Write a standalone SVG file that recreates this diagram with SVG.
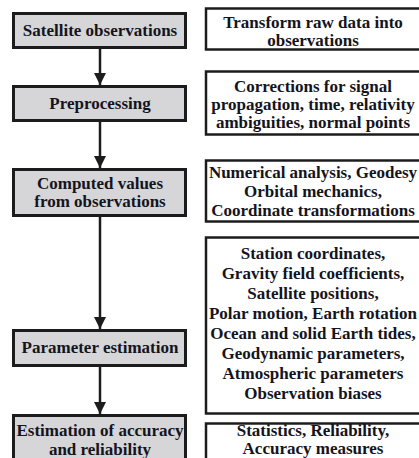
<svg xmlns="http://www.w3.org/2000/svg" width="419" height="458" viewBox="0 0 419 458">
<defs>
<style>
.lb{fill:#d6d6d8;stroke:#1c1c1c;stroke-width:3}
.rb{fill:#ffffff;stroke:#1c1c1c;stroke-width:2.5}
.t{font-weight:bold;font-size:17px;fill:#141420;text-anchor:middle}
.c{stroke:#1c1c1c;stroke-width:2.5;fill:none}
</style>
<marker id="ah" markerWidth="12" markerHeight="12" viewBox="0 0 12 12" refX="12" refY="6" orient="auto" markerUnits="userSpaceOnUse">
<path d="M0,0 L12,6 L0,12 Z" fill="#1c1c1c"/>
</marker>
</defs>
<rect width="419" height="458" fill="#ffffff"/>
<g id="connectors">
<line class="c" x1="100" y1="48" x2="100" y2="85" marker-end="url(#ah)"/>
<line class="c" x1="100" y1="121" x2="100" y2="168" marker-end="url(#ah)"/>
<line class="c" x1="100" y1="217" x2="100" y2="329" marker-end="url(#ah)"/>
<line class="c" x1="100" y1="366" x2="100" y2="414" marker-end="url(#ah)"/>
</g>
<g font-family="Liberation Serif, Times New Roman, serif">
<g id="n1">
<rect class="lb" x="13.5" y="13.5" width="172" height="34"/>
<text class="t" x="100" y="36">Satellite observations</text>
</g>
<g id="n2">
<rect class="lb" x="13.5" y="86.5" width="172" height="34"/>
<text class="t" x="100" y="109">Preprocessing</text>
</g>
<g id="n3">
<rect class="lb" x="13.5" y="169.5" width="172" height="46"/>
<text class="t" x="100" y="189">Computed values</text>
<text class="t" x="100" y="207">from observations</text>
</g>
<g id="n4">
<rect class="lb" x="13.5" y="330.5" width="172" height="35"/>
<text class="t" x="100" y="353">Parameter estimation</text>
</g>
<g id="n5">
<rect class="lb" x="13.5" y="415.5" width="172" height="60"/>
<text class="t" x="100" y="436">Estimation of accuracy</text>
<text class="t" x="100" y="455">and reliability</text>
</g>
<g id="r1">
<rect class="rb" x="206" y="8.5" width="230" height="41"/>
<text class="t" x="313" y="28">Transform raw data into</text>
<text class="t" x="313" y="46">observations</text>
</g>
<g id="r2">
<rect class="rb" x="206" y="71.5" width="230" height="63"/>
<text class="t" x="313" y="92">Corrections for signal</text>
<text class="t" x="313" y="110">propagation, time, relativity</text>
<text class="t" x="313" y="128">ambiguities, normal points</text>
</g>
<g id="r3">
<rect class="rb" x="206" y="160.5" width="230" height="61"/>
<text class="t" x="313" y="178">Numerical analysis, Geodesy</text>
<text class="t" x="313" y="197">Orbital mechanics,</text>
<text class="t" x="313" y="216">Coordinate transformations</text>
</g>
<g id="r4">
<rect class="rb" x="206" y="237.5" width="230" height="176"/>
<text class="t" x="313" y="259">Station coordinates,</text>
<text class="t" x="313" y="279">Gravity field coefficients,</text>
<text class="t" x="313" y="299">Satellite positions,</text>
<text class="t" x="313" y="319">Polar motion, Earth rotation</text>
<text class="t" x="313" y="339">Ocean and solid Earth tides,</text>
<text class="t" x="313" y="359">Geodynamic parameters,</text>
<text class="t" x="313" y="379">Atmospheric parameters</text>
<text class="t" x="313" y="399">Observation biases</text>
</g>
<g id="r5">
<rect class="rb" x="206" y="423.5" width="230" height="60"/>
<text class="t" x="313" y="436">Statistics, Reliability,</text>
<text class="t" x="313" y="454">Accuracy measures</text>
</g>
</g>
</svg>
